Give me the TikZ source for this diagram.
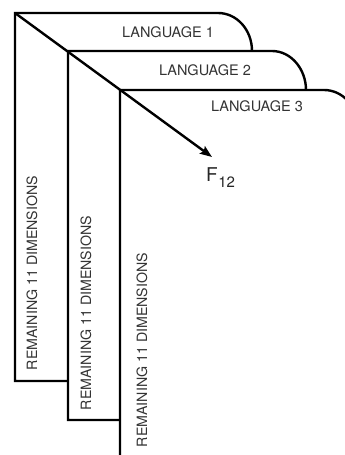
\documentclass[tikz,border=0pt]{standalone}
\usepackage{fontspec}
\setmainfont{TeX Gyre Heros}
\usetikzlibrary{arrows.meta}
\begin{document}
\begin{tikzpicture}[x=1pt,y=-1pt,
  panel/.style={draw=black,line width=2.4pt,line join=miter},
  lang/.style={font=\fontsize{14.5}{16}\selectfont,text=black!80,inner sep=0pt},
  dims/.style={font=\fontsize{14.2}{16}\selectfont,text=black!80,inner sep=0pt,rotate=90},
  vec/.style={line width=2.4pt,-{Stealth[length=12pt,width=9pt,inset=2pt]}}]
\useasboundingbox (0,0) rectangle (345,455);
\clip (0,0) rectangle (345,455);
% stacked panels, back to front
\draw[panel] (68,381) -- (15,381) -- (15,13) -- (218,13)
  .. controls (237,13) and (252,30) .. (252,51);
\draw[panel] (120,420) -- (68,420) -- (68,51) -- (272,51)
  .. controls (291,51) and (306,69) .. (306,90);
\draw[panel] (120,470) -- (120,90) -- (324,90)
  .. controls (343,90) and (358,107) .. (358,128);
% labels
\node[lang] (l1) at (168,32) {LANGUAGE 1};
\node[lang] (l2) at (205,70) {LANGUAGE 2};
\node[lang] (l3) at (257,106) {LANGUAGE 3};
\node[dims] (d1) at (32,273) {REMAINING 11 DIMENSIONS};
\node[dims] (d2) at (86,313) {REMAINING 11 DIMENSIONS};
\node[dims] (d3) at (142,350) {REMAINING 11 DIMENSIONS};
\node[inner sep=0pt,text=black!85,anchor=west] (f) at (206,178)
  {\fontsize{19}{20}\selectfont F\kern0.5pt\raisebox{-6pt}{\fontsize{15}{16}\selectfont 12}};
% direction vector
\coordinate (o) at (15,13);
\coordinate (tip) at (212,157);
\draw[vec] (o) -- (tip);
\end{tikzpicture}
\end{document}
